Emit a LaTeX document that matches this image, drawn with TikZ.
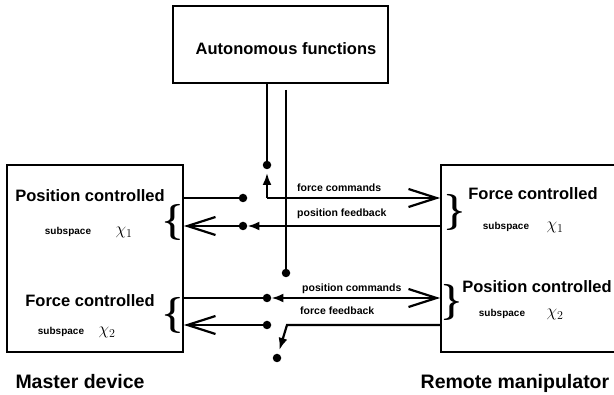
\documentclass[tikz,border=0pt]{standalone}
\usepackage{fontspec}
\setmainfont{Liberation Sans}
\usetikzlibrary{arrows.meta}

\begin{document}
\begin{tikzpicture}[x=1pt, y=-1pt,
  box/.style={draw, line width=1.8pt, inner sep=0pt},
  dot/.style={circle, fill, inner sep=0pt, minimum size=8.5pt},
  sig/.style={line width=2.2pt},
  opn/.style={sig, -{Straight Barb[length=28pt, width=18pt, line width=2.2pt]}},
  fil/.style={sig, -{Latex[length=12pt, width=9pt]}},
  both/.style={sig, {Latex[length=12pt, width=9pt]}-{Straight Barb[length=28pt, width=18pt, line width=2.2pt]}},
  big/.style={font=\fontsize{16.5}{19}\bfseries\selectfont, inner sep=0pt},
  lbl/.style={font=\fontsize{19.5}{22}\bfseries\selectfont, inner sep=0pt},
  sub/.style={font=\fontsize{10}{12}\bfseries\selectfont, inner sep=0pt},
  sig lbl/.style={font=\fontsize{10.5}{12}\bfseries\selectfont, inner sep=0pt},
  chi/.style={font=\fontsize{18}{20}\selectfont, inner sep=0pt},
  brace/.style={font=\Huge\boldmath, inner sep=0pt, scale=1.45}
]
  \useasboundingbox (0,0) rectangle (614,395);

  % blocks
  \node[box, minimum width=215pt, minimum height=77pt] (auto) at (280.5,44.5) {};
  \node[box, minimum width=176pt, minimum height=187pt] (master) at (95,258.5) {};
  \node[box, minimum width=190pt, minimum height=187pt] (remote) at (536,258.5) {};

  \node[big, anchor=base] at (286,55) {Autonomous functions};

  % master side
  \node[big, anchor=base] at (90,202) {Position controlled};
  \node[sub, anchor=base] at (68,235) {subspace};
  \node[chi, anchor=base] at (124,235) {$\chi_1$};
  \node[big, anchor=base] at (90,307) {Force controlled};
  \node[sub, anchor=base] at (61,335) {subspace};
  \node[chi, anchor=base] at (107,335) {$\chi_2$};
  \node[brace] (mb1) at (173,222) {$\{$};
  \node[brace] (mb2) at (173,315) {$\{$};

  % remote side
  \node[big, anchor=base] at (533,200) {Force controlled};
  \node[sub, anchor=base] at (506,230) {subspace};
  \node[chi, anchor=base] at (555,230) {$\chi_1$};
  \node[big, anchor=base] at (537,293) {Position controlled};
  \node[sub, anchor=base] at (502,317) {subspace};
  \node[chi, anchor=base] at (555,317) {$\chi_2$};
  \node[brace] (rb1) at (455,212) {$\}$};
  \node[brace] (rb2) at (452,302) {$\}$};

  \node[lbl, anchor=base] at (80,389) {Master device};
  \node[lbl, anchor=base] at (515,389) {Remote manipulator};

  % switch points
  \node[dot] (a1) at (267,165) {};
  \node[dot] (p1) at (243,198) {};
  \node[dot] (p2) at (243,226) {};
  \node[dot] (a2) at (286,273) {};
  \node[dot] (q1) at (267,298) {};
  \node[dot] (q2) at (267,325) {};
  \node[dot] (a3) at (277,358) {};
  \coordinate (t2) at (286,90);
  \coordinate (fc) at (267,198);
  \coordinate (fu) at (267,173);
  \coordinate (fk) at (287,325);

  % links to autonomous functions
  \draw[sig] (a1 |- auto.south) -- (a1);
  \draw[sig] (t2) -- (a2);

  % force commands / position feedback
  \draw[sig] (p1 -| master.east) -- (p1);
  \draw[fil] (fc) -- (fu);
  \draw[opn] (fc) -- (fc -| remote.west);
  \draw[fil] (p2 -| remote.west) -- (p2);
  \draw[opn] (p2) -- (p2 -| master.east);
  \node[sig lbl, anchor=base west] at (297,192) {force commands};
  \node[sig lbl, anchor=base west] at (297,217) {position feedback};

  % position commands / force feedback
  \draw[sig] (q1 -| master.east) -- (q1);
  \draw[both] (q1) -- (q1 -| remote.west);
  \draw[fil, shorten >=4pt] (q2 -| remote.west) -- (fk) -- (a3);
  \draw[opn] (q2) -- (q2 -| master.east);
  \node[sig lbl, anchor=base west] at (302,292) {position commands};
  \node[sig lbl, anchor=base west] at (300,315) {force feedback};
\end{tikzpicture}
\end{document}
